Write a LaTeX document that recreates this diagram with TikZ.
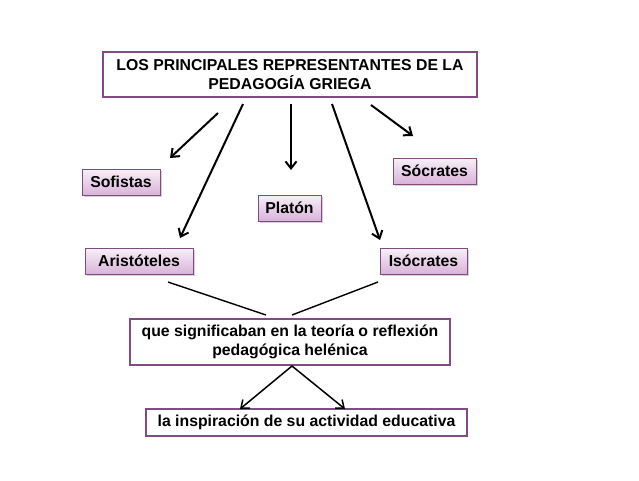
\documentclass[tikz,border=0pt]{standalone}
\usepackage{fontspec}
\setmainfont{Liberation Sans}
\usetikzlibrary{shadows,arrows.meta}
\begin{document}
\begin{tikzpicture}[x=1pt,y=-1pt,
  plain/.style={draw=violet!60!black!70,line width=1.2pt,fill=white,align=center,font=\fontsize{15.8}{19}\selectfont\bfseries,inner sep=0pt},
  lav/.style={draw=violet!40!gray,line width=0.8pt,top color=violet!6,bottom color=violet!30,font=\fontsize{15.8}{19}\selectfont\bfseries,inner sep=0pt,drop shadow={opacity=0.35,shadow xshift=1.5pt,shadow yshift=-1.5pt}},
  arr/.style={-{Straight Barb[length=7pt,width=11pt]},line width=2pt},
  ln/.style={line width=1.4pt}]
\useasboundingbox (0,0) rectangle (639,480);
\node[plain,minimum width=374pt,minimum height=45pt] (top) at (290,74.5) {LOS PRINCIPALES REPRESENTANTES DE LA\\PEDAGOGÍA GRIEGA};
\node[lav,minimum width=78pt,minimum height=26pt] (sof) at (121,182) {Sofistas};
\node[lav,minimum width=63pt,minimum height=26pt] (pla) at (289.5,208) {Platón};
\node[lav,minimum width=83pt,minimum height=26pt] (soc) at (434.5,171) {Sócrates};
\node[lav,minimum width=108pt,minimum height=26pt] (ari) at (139,261) {Aristóteles};
\node[lav,minimum width=87pt,minimum height=26pt] (iso) at (423.5,261) {Isócrates};
\node[plain,minimum width=320pt,minimum height=46pt] (mid) at (290,342) {que significaban en la teoría o reflexión\\pedagógica helénica};
\node[plain,minimum width=321pt,minimum height=27pt] (bot) at (306.5,422.5) {la inspiración de su actividad educativa};
\coordinate (a1s) at (218,113); \coordinate (a1e) at (170,158);
\coordinate (a2s) at (243,104); \coordinate (a2e) at (180,238);
\coordinate (a3s) at (291,104); \coordinate (a3e) at (291,170);
\coordinate (a4s) at (332,104); \coordinate (a4e) at (380,240);
\coordinate (a5s) at (371,105); \coordinate (a5e) at (413,136);
\draw[arr] (a1s) -- (a1e);
\draw[arr] (a2s) -- (a2e);
\draw[arr] (a3s) -- (a3e);
\draw[arr] (a4s) -- (a4e);
\draw[arr] (a5s) -- (a5e);
\coordinate (l1s) at (168,282); \coordinate (l1e) at (266,315);
\coordinate (l2s) at (378,282); \coordinate (l2e) at (292,315);
\draw[ln] (l1s) -- (l1e);
\draw[ln] (l2s) -- (l2e);
\coordinate (m) at (292,366);
\coordinate (b1) at (240,409); \coordinate (b2) at (345,409);
\draw[arr,line width=1.5pt] (m) -- (b1);
\draw[arr,line width=1.5pt] (m) -- (b2);
\end{tikzpicture}
\end{document}
